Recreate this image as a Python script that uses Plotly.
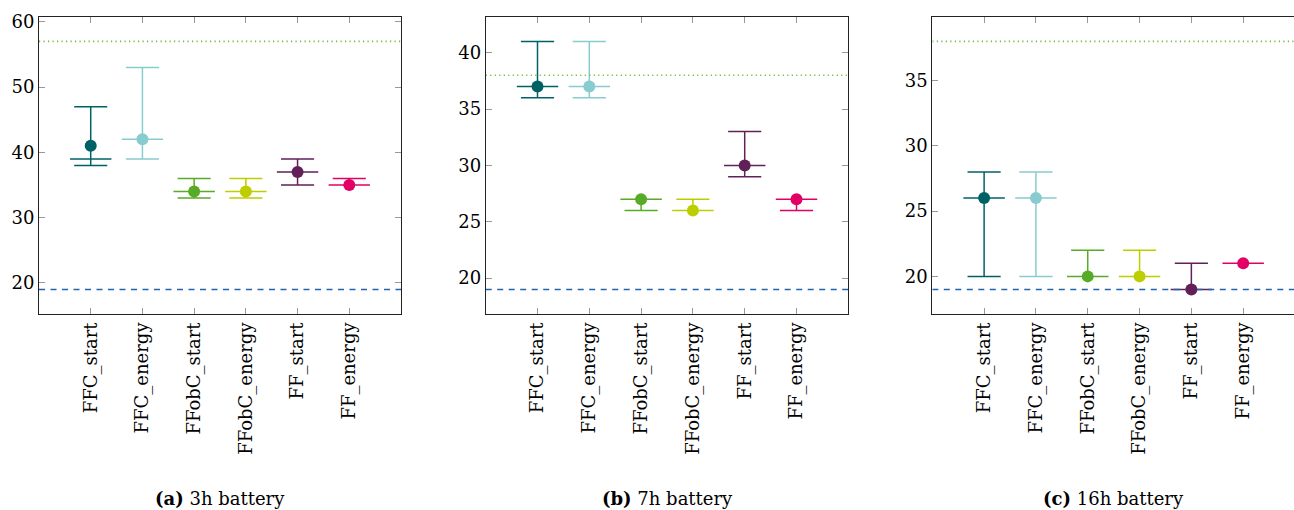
import plotly.graph_objects as go

categories = ["FFC_start", "FFC_energy", "FFobC_start", "FFobC_energy", "FF_start", "FF_energy"]
colors = ["#006165", "#89CCCF", "#57AB27", "#BDCD00", "#612158", "#E30066"]

panel_titles = ["<b>(a)</b> 3h battery", "<b>(b)</b> 7h battery", "<b>(c)</b> 16h battery"]

# per panel: min, median, max, mean
mins_a = [38, 39, 33, 33, 35, 35]
med_a = [39, 42, 34, 34, 37, 35]
max_a = [47, 53, 36, 36, 39, 36]
mean_a = [41, 42, 34, 34, 37, 35]

mins_b = [36, 36, 26, 26, 29, 26]
med_b = [37, 37, 27, 26, 30, 27]
max_b = [41, 41, 27, 27, 33, 27]
mean_b = [37, 37, 27, 26, 30, 27]

mins_c = [20, 20, 20, 20, 19, 21]
med_c = [26, 26, 20, 20, 19, 21]
max_c = [28, 28, 22, 22, 21, 21]
mean_c = [26, 26, 20, 20, 19, 21]

upper_ref = [57, 38, 38]   # green dotted
lower_ref = [19, 19, 19]   # blue dashed

y_ranges = [[15.2, 60.8], [16.8, 43.2], [17.1, 39.9]]
y_ticks = [[20, 30, 40, 50, 60], [20, 25, 30, 35, 40], [20, 25, 30, 35]]

panels = [
    (mins_a, med_a, max_a, mean_a),
    (mins_b, med_b, max_b, mean_b),
    (mins_c, med_c, max_c, mean_c),
]

W, H = 1294, 510
x_px = [(39, 401), (485.7, 848.3), (932.3, 1294)]
y_top, y_bot = 11.7, 312.3
x_ranges = [[0, 7], [0, 7], [0, 7 * 361.7 / 362.7]]

FONT = "DejaVu Serif"
fig = go.Figure()

xpos = list(range(1, len(categories) + 1))

for p, (mn, md, mx, mu) in enumerate(panels):
    xa = "x" if p == 0 else f"x{p+1}"
    ya = "y" if p == 0 else f"y{p+1}"
    # reference lines
    fig.add_trace(go.Scatter(x=x_ranges[p], y=[upper_ref[p]] * 2, mode="lines",
                             line=dict(color="#6DBE3A", width=1.6, dash="1.2px,3.3px"),
                             xaxis=xa, yaxis=ya, showlegend=False, hoverinfo="skip"))
    fig.add_trace(go.Scatter(x=x_ranges[p], y=[lower_ref[p]] * 2, mode="lines",
                             line=dict(color="#1F64AD", width=1.4, dash="6px,5.5px"),
                             xaxis=xa, yaxis=ya, showlegend=False, hoverinfo="skip"))
    for i, c in enumerate(categories):
        fig.add_trace(go.Box(
            x=[xpos[i]], q1=[md[i]], median=[md[i]], q3=[md[i]],
            lowerfence=[mn[i]], upperfence=[mx[i]],
            width=0.8, whiskerwidth=0.8, boxpoints=False,
            line=dict(color=colors[i], width=1.5), fillcolor=colors[i],
            xaxis=xa, yaxis=ya, showlegend=False, name=c))
        fig.add_trace(go.Scatter(
            x=[xpos[i]], y=[mu[i]], mode="markers",
            marker=dict(color=colors[i], size=12, line=dict(width=0)),
            xaxis=xa, yaxis=ya, showlegend=False, name=c))

layout = dict(
    width=W, height=H, margin=dict(l=0, r=0, t=0, b=0),
    plot_bgcolor="white", paper_bgcolor="white",
    boxmode="overlay",
    font=dict(family=FONT, size=18, color="black"),
)
annotations = []
for p in range(3):
    sfx = "" if p == 0 else str(p + 1)
    x0, x1 = x_px[p]
    layout["xaxis" + sfx] = dict(
        domain=[x0 / W, min(x1 / W, 1.0)], range=x_ranges[p],
        tickvals=xpos, ticktext=categories, tickangle=-90,
        ticks="inside", ticklen=6, tickcolor="#999", tickwidth=1,
        showline=True, linecolor="#222", linewidth=1, mirror="ticks",
        showgrid=False, zeroline=False, anchor="y" + sfx,
        tickfont=dict(family=FONT, size=18),
    )
    layout["yaxis" + sfx] = dict(
        domain=[1 - y_bot / H, 1 - y_top / H], range=y_ranges[p],
        tickvals=y_ticks[p],
        ticks="inside", ticklen=6, tickcolor="#999", tickwidth=1,
        showline=True, linecolor="#222", linewidth=1,
        mirror=("ticks" if p < 2 else False),
        showgrid=False, zeroline=False, anchor="x" + sfx,
        tickfont=dict(family=FONT, size=18),
    )
    annotations.append(dict(
        text=panel_titles[p], xref="paper", yref="paper",
        x=((x0 + x1) / 2 if p < 2 else 1113) / W, y=1 - 498 / H,
        xanchor="center", yanchor="middle",
        showarrow=False, font=dict(family=FONT, size=18),
    ))
layout["annotations"] = annotations
fig.update_layout(**layout)

fig.write_html("out.html", config={"displayModeBar": False},
               post_script="document.body.style.margin='0';document.body.style.overflow='hidden';")
